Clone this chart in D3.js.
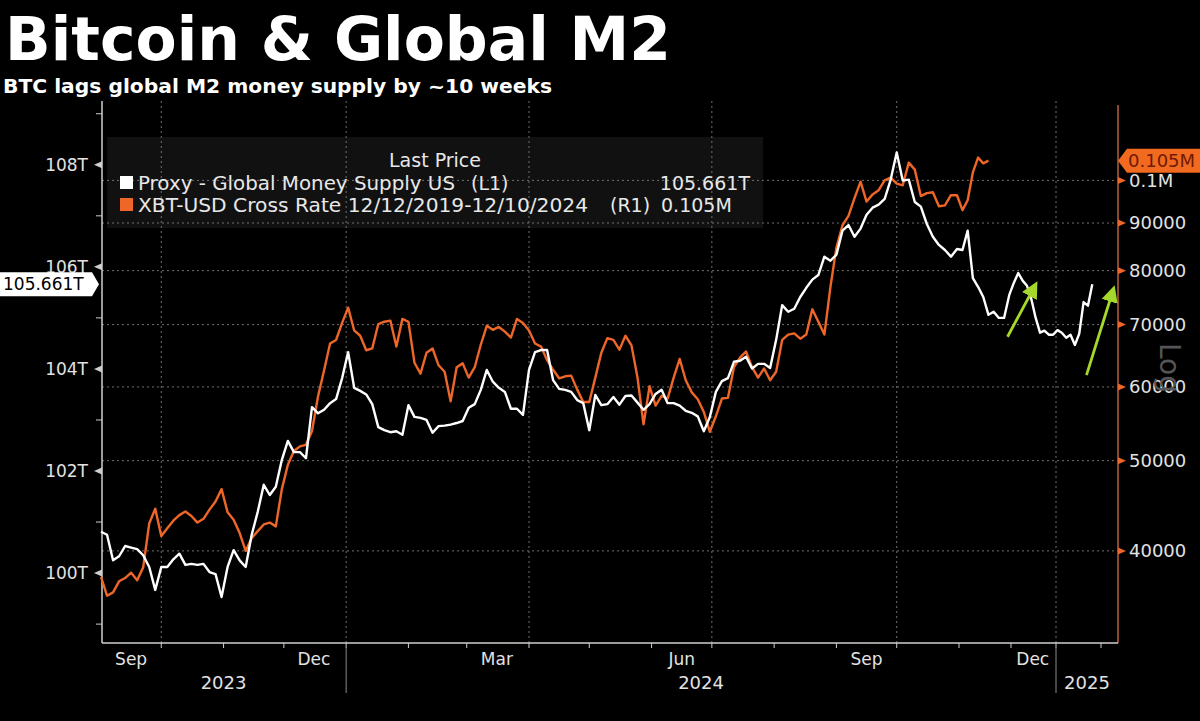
<!DOCTYPE html>
<html>
<head>
    <meta charset="utf-8">
    <title>Bitcoin & Global M2</title>
    <script src="https://d3js.org/d3.v7.min.js"></script>
    <style>
        body { margin: 0; background: #000; }
        svg { display: block; }
    </style>
</head>
<body>
    <div id="chart"></div>
    <script>
        // Both series every 3 days from 2023-09-01
        const seriesStart = "2023-09-01";
        const stepDays = 3;

        // Proxy - Global Money Supply US (L1), trillions USD
        const m2Values = [
            100.81, 100.75, 100.25, 100.33, 100.53, 100.50, 100.47, 100.35, 100.12, 99.67,
            100.12, 100.12, 100.27, 100.38, 100.16, 100.18, 100.16, 100.18, 100.02, 99.98,
            99.53, 100.12, 100.45, 100.25, 100.12, 100.75, 101.20, 101.73, 101.53, 101.69,
            102.22, 102.59, 102.37, 102.37, 102.25, 103.25, 103.13, 103.20, 103.33, 103.41,
            103.82, 104.33, 103.63, 103.57, 103.50, 103.31, 102.86, 102.80, 102.76, 102.78,
            102.71, 103.29, 103.06, 103.04, 103.00, 102.75, 102.88, 102.89, 102.91, 102.94,
            102.98, 103.24, 103.31, 103.59, 103.98, 103.75, 103.63, 103.55, 103.22, 103.22,
            103.10, 103.98, 104.33, 104.37, 104.37, 103.78, 103.61, 103.59, 103.55, 103.39,
            103.33, 102.80, 103.49, 103.29, 103.31, 103.45, 103.30, 103.47, 103.48, 103.34,
            103.20, 103.31, 103.51, 103.59, 103.33, 103.33, 103.28, 103.18, 103.14, 103.07,
            102.78, 103.06, 103.55, 103.76, 103.82, 104.14, 104.16, 104.24, 104.01, 104.10,
            104.10, 104.02, 104.57, 105.25, 105.12, 105.18, 105.41, 105.59, 105.75, 105.84,
            106.20, 106.12, 106.24, 106.71, 106.82, 106.59, 106.75, 107.02, 107.16, 107.22,
            107.33, 107.71, 108.24, 107.69, 107.71, 107.27, 107.18, 106.84, 106.59, 106.43,
            106.33, 106.20, 106.35, 106.33, 106.71, 105.78, 105.61, 105.41, 105.06, 105.12,
            105.00, 105.00, 105.45, 105.69, 105.88, 105.73, 105.63, 105.37, 105.00, 104.71,
            104.75, 104.67, 104.67, 104.76, 104.71, 104.61, 104.67, 104.47, 104.69, 105.31,
            105.24, 105.661
        ];

        // XBT-USD Cross Rate (R1), USD, log scale
        const btcValues = [
            37500, 35800, 36100, 37100, 37400, 37900, 37200, 38400, 42800, 44400,
            41500, 42300, 43100, 43700, 44100, 43600, 42900, 43300, 44300, 45200,
            46600, 44000, 43200, 41800, 40000, 41300, 42000, 42700, 42900, 42500,
            46600, 49500, 51200, 51800, 52000, 53800, 58600, 62500, 66800, 67400,
            70300, 73000, 69000, 68100, 65700, 66000, 70100, 70500, 70700, 66300,
            71000, 70500, 63700, 62000, 65300, 66000, 63300, 62300, 57900, 63000,
            63600, 61400, 63000, 66600, 69800, 69100, 69600, 68800, 67800, 71000,
            70300, 69000, 66800, 66300, 64100, 62600, 61300, 61600, 61700, 59600,
            57800, 57800, 61400, 65300, 67700, 67400, 65800, 68100, 66500, 61400,
            54700, 60100, 57300, 58700, 58300, 61400, 64300, 61000, 59200, 58200,
            56400, 53700, 55800, 58300, 58400, 63000, 64500, 65500, 63000, 61400,
            62800, 61000, 62300, 67400, 68300, 68500, 67600, 68300, 72700, 70500,
            68300, 76800, 84700, 89500, 91600, 95700, 99700, 94900, 96600, 97600,
            100000, 100700, 99200, 98800, 104500, 102700, 96200, 96900, 97100, 93800,
            94000, 96400, 96400, 92900, 95200, 102000, 105800, 104300, 105000
        ];

        // Axis ticks
        const leftTicks = [100, 102, 104, 106, 108];
        const leftMinorTicks = [99, 101, 103, 105, 107, 109];
        const rightTicks = [40000, 50000, 60000, 70000, 80000, 90000, 100000];
        const monthLabelDates = ["2023-09-16", "2023-12-16", "2024-03-16", "2024-06-16", "2024-09-16", "2024-12-16"];
        const years = [2023, 2024, 2025];

        // Legend rows
        const legendNames = ["Proxy - Global Money Supply US", "XBT-USD Cross Rate 12/12/2019-12/10/2024"];
        const legendAxes = ["(L1)", "(R1)"];

        // Green annotation arrows: [date, M2 value] -> [date, M2 value]
        const arrowStarts = [["2024-11-29", 104.63], ["2025-01-22", 103.88]];
        const arrowEnds = [["2024-12-17", 105.76], ["2025-02-09", 105.67]];

        const W = 1200, H = 721;
        const plotLeft = 102, plotRight = 1118, plotTop = 101, plotBottom = 643;
        const white = "#ffffff", orange = "#ee6628", grid = "#707070", axisGrey = "#cfcfcf";
        const font = "'DejaVu Sans', sans-serif";

        const parse = d3.timeParse("%Y-%m-%d");
        const start = parse(seriesStart);
        const m2 = m2Values.map((v, i) => ({ date: d3.timeDay.offset(start, i * stepDays), value: v }));
        const btc = btcValues.map((v, i) => ({ date: d3.timeDay.offset(start, i * stepDays), value: v }));

        // Bloomberg squeezes the last months of the axis
        const x = d3.scaleTime()
            .domain([parse("2023-09-01"), parse("2024-11-01"), parse("2024-12-01"), parse("2025-02-01")])
            .range([101, 959, 1011, 1101]);
        const yL = d3.scaleLinear().domain([98.63, 109.25]).range([plotBottom, plotTop]);
        const yR = d3.scaleLog().domain([31850, 121700]).range([plotBottom, plotTop]);

        const svg = d3.select("#chart")
            .append("svg")
            .attr("width", W)
            .attr("height", H)
            .style("background-color", "#000");

        // Title
        svg.append("text")
            .attr("x", 5).attr("y", 60)
            .attr("textLength", 666).attr("lengthAdjust", "spacingAndGlyphs")
            .style("font-family", font).style("font-weight", "bold").style("font-size", "61px")
            .style("fill", "#fff")
            .text("Bitcoin & Global M2");
        svg.append("text")
            .attr("x", 3).attr("y", 93)
            .attr("textLength", 549).attr("lengthAdjust", "spacingAndGlyphs")
            .style("font-family", font).style("font-weight", "bold").style("font-size", "20px")
            .style("fill", "#fff")
            .text("BTC lags global M2 money supply by ~10 weeks");

        // Legend box (under the grid)
        svg.append("rect")
            .attr("x", 107).attr("y", 137).attr("width", 656).attr("height", 91)
            .style("fill", "#111111");

        // Gridlines
        const quarterStarts = d3.timeMonth.range(parse("2023-09-01"), parse("2025-02-02"))
            .filter(d => d.getMonth() % 3 === 0);
        svg.append("g")
            .selectAll("line")
            .data(rightTicks)
            .enter()
            .append("line")
            .attr("x1", plotLeft).attr("x2", plotRight)
            .attr("y1", d => yR(d)).attr("y2", d => yR(d))
            .style("stroke", grid).style("stroke-dasharray", "2,3");
        svg.append("g")
            .selectAll("line")
            .data(quarterStarts)
            .enter()
            .append("line")
            .attr("x1", d => x(d)).attr("x2", d => x(d))
            .attr("y1", plotTop).attr("y2", plotBottom)
            .style("stroke", grid).style("stroke-dasharray", "2,3");

        // Legend text
        svg.append("text")
            .attr("x", 435).attr("y", 167)
            .style("text-anchor", "middle")
            .style("font-family", font).style("font-size", "19px").style("fill", "#e8e8e8")
            .text("Last Price");
        const legendY = [190, 212];
        const legendLens = [317, 450];
        const legendAxisX = [471, 610];
        [white, orange].forEach((c, i) => {
            svg.append("rect")
                .attr("x", 120).attr("y", legendY[i] - 14).attr("width", 13).attr("height", 13)
                .style("fill", c);
            svg.append("text")
                .attr("x", 138).attr("y", legendY[i])
                .attr("textLength", legendLens[i]).attr("lengthAdjust", "spacingAndGlyphs")
                .style("font-family", font).style("font-size", "19px").style("fill", "#e8e8e8")
                .text(legendNames[i]);
            svg.append("text")
                .attr("x", legendAxisX[i]).attr("y", legendY[i])
                .style("font-family", font).style("font-size", "19px").style("fill", "#e8e8e8")
                .text(legendAxes[i]);
        });
        const lastM2 = m2Values[m2Values.length - 1];
        const lastBtc = btcValues[btcValues.length - 1];
        svg.append("text")
            .attr("x", 750).attr("y", legendY[0])
            .style("text-anchor", "end")
            .style("font-family", font).style("font-size", "19px").style("fill", "#e8e8e8")
            .text(d3.format(".3f")(lastM2) + "T");
        svg.append("text")
            .attr("x", 661).attr("y", legendY[1])
            .style("font-family", font).style("font-size", "19px").style("fill", "#e8e8e8")
            .text(d3.format(".3f")(lastBtc / 1e6) + "M");

        // Axes lines
        svg.append("line")
            .attr("x1", plotLeft).attr("x2", plotLeft).attr("y1", plotTop).attr("y2", plotBottom)
            .style("stroke", axisGrey).style("stroke-width", 1.5);
        svg.append("line")
            .attr("x1", plotRight).attr("x2", plotRight).attr("y1", plotTop + 4).attr("y2", plotBottom)
            .style("stroke", "#b9603c").style("stroke-width", 1.5);
        svg.append("line")
            .attr("x1", plotLeft).attr("x2", plotRight).attr("y1", plotBottom).attr("y2", plotBottom)
            .style("stroke", axisGrey).style("stroke-width", 1.5);

        // Left axis ticks and labels
        const left = svg.append("g").attr("class", "left-axis");
        left.selectAll("path")
            .data(leftTicks)
            .enter()
            .append("path")
            .attr("d", d => `M${plotLeft - 8},${yL(d)}L${plotLeft},${yL(d) - 3.5}L${plotLeft},${yL(d) + 3.5}Z`)
            .style("fill", axisGrey);
        left.selectAll("line")
            .data(leftMinorTicks)
            .enter()
            .append("line")
            .attr("x1", plotLeft - 6).attr("x2", plotLeft)
            .attr("y1", d => yL(d)).attr("y2", d => yL(d))
            .style("stroke", axisGrey);
        left.selectAll("text")
            .data(leftTicks)
            .enter()
            .append("text")
            .attr("x", 88).attr("y", d => yL(d))
            .attr("dy", "0.36em")
            .style("text-anchor", "end")
            .style("font-family", font).style("font-size", "17px").style("fill", "#e2e2e2")
            .text(d => d + "T");

        // Right axis ticks and labels
        const right = svg.append("g").attr("class", "right-axis");
        right.selectAll("path")
            .data(rightTicks)
            .enter()
            .append("path")
            .attr("d", d => `M${plotRight + 8},${yR(d)}L${plotRight},${yR(d) - 3.5}L${plotRight},${yR(d) + 3.5}Z`)
            .style("fill", orange);
        right.selectAll("text")
            .data(rightTicks)
            .enter()
            .append("text")
            .attr("x", 1129).attr("y", d => yR(d))
            .attr("dy", "0.36em")
            .style("font-family", font).style("font-size", "18px").style("fill", "#e2e2e2")
            .text(d => d >= 100000 ? d3.format(".1f")(d / 1e6) + "M" : d);
        svg.append("text")
            .attr("transform", "translate(1160,368) rotate(90)")
            .style("text-anchor", "middle")
            .style("font-family", font).style("font-size", "28px").style("fill", "#555")
            .text("Log");

        // Bottom axis: month ticks, quarter labels, year labels
        const months = d3.timeMonth.range(parse("2023-10-01"), parse("2025-02-02"));
        svg.append("g")
            .selectAll("line")
            .data(months)
            .enter()
            .append("line")
            .attr("x1", d => x(d)).attr("x2", d => x(d))
            .attr("y1", plotBottom).attr("y2", plotBottom + 5)
            .style("stroke", axisGrey);
        svg.append("g")
            .selectAll("text")
            .data(monthLabelDates.map(parse))
            .enter()
            .append("text")
            .attr("x", d => x(d)).attr("y", 665)
            .style("text-anchor", "middle")
            .style("font-family", font).style("font-size", "17px").style("fill", "#e2e2e2")
            .text(d3.timeFormat("%b"));
        const yearEdges = [x(parse("2023-09-01")), x(parse("2024-01-01")), x(parse("2025-01-01")), plotRight];
        svg.append("g")
            .selectAll("line")
            .data(yearEdges.slice(1, 3))
            .enter()
            .append("line")
            .attr("x1", d => d).attr("x2", d => d)
            .attr("y1", 648).attr("y2", 693)
            .style("stroke", "#8a8a8a");
        svg.append("g")
            .selectAll("text")
            .data(years)
            .enter()
            .append("text")
            .attr("x", (d, i) => (yearEdges[i] + yearEdges[i + 1]) / 2).attr("y", 689)
            .style("text-anchor", "middle")
            .style("font-family", font).style("font-size", "18px").style("fill", "#e2e2e2")
            .text(d => d);

        // Series lines
        const btcLine = d3.line().x(d => x(d.date)).y(d => yR(d.value));
        const m2Line = d3.line().x(d => x(d.date)).y(d => yL(d.value));
        svg.append("path")
            .datum(btc)
            .attr("d", btcLine)
            .style("fill", "none").style("stroke", orange).style("stroke-width", 2.4)
            .style("stroke-linejoin", "round");
        svg.append("path")
            .datum(m2)
            .attr("d", m2Line)
            .style("fill", "none").style("stroke", white).style("stroke-width", 2.4)
            .style("stroke-linejoin", "round");

        // Last value tags
        const tagL = yL(lastM2);
        svg.append("path")
            .attr("d", `M0,${tagL - 12}L92,${tagL - 12}L99,${tagL}L92,${tagL + 12}L0,${tagL + 12}Z`)
            .style("fill", "#fff");
        svg.append("text")
            .attr("x", 3).attr("y", tagL).attr("dy", "0.36em")
            .style("font-family", font).style("font-size", "17px").style("fill", "#000")
            .text(d3.format(".3f")(lastM2) + "T");
        const tagR = yR(lastBtc);
        svg.append("path")
            .attr("d", `M${plotRight},${tagR}L${plotRight + 9},${tagR - 12}L${W},${tagR - 12}L${W},${tagR + 12}L${plotRight + 9},${tagR + 12}Z`)
            .style("fill", "#f26a1f");
        svg.append("text")
            .attr("x", 1128).attr("y", tagR).attr("dy", "0.36em")
            .style("font-family", font).style("font-size", "18px").style("fill", "#6e1a05")
            .text(d3.format(".3f")(lastBtc / 1e6) + "M");

        // Green arrows
        svg.append("defs")
            .append("marker")
            .attr("id", "head")
            .attr("viewBox", "0 0 10 10")
            .attr("refX", 6).attr("refY", 5)
            .attr("markerWidth", 6).attr("markerHeight", 6)
            .attr("orient", "auto")
            .append("path")
            .attr("d", "M0,0L10,5L0,10Z")
            .style("fill", "#a6d72b");
        svg.append("g")
            .selectAll("line")
            .data(arrowStarts)
            .enter()
            .append("line")
            .attr("x1", d => x(parse(d[0]))).attr("y1", d => yL(d[1]))
            .attr("x2", (d, i) => x(parse(arrowEnds[i][0]))).attr("y2", (d, i) => yL(arrowEnds[i][1]) + 8)
            .style("stroke", "#a6d72b").style("stroke-width", 2.8)
            .attr("marker-end", "url(#head)");
    </script>
</body>
</html>
